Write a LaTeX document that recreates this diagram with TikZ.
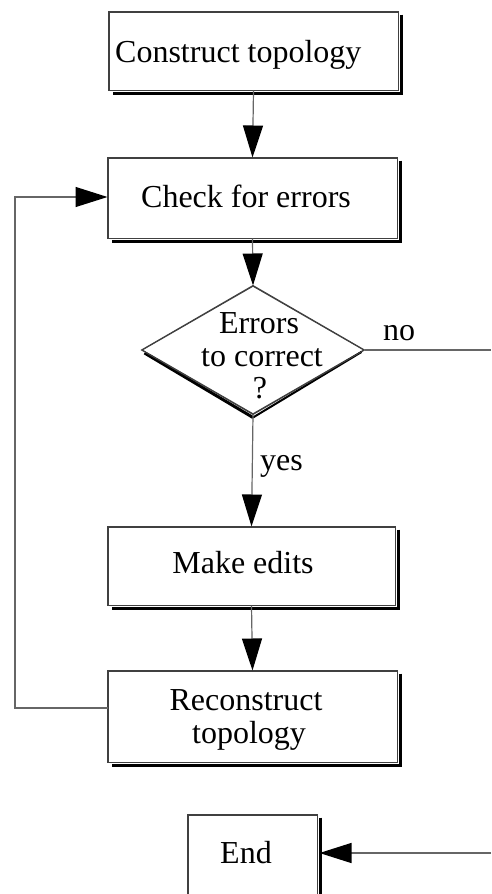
\documentclass[tikz,border=0pt]{standalone}
\usepackage{fontspec}
\setmainfont{Liberation Serif}
\usetikzlibrary{arrows.meta,shapes.geometric,calc}

\tikzset{
  boxnode/.style={draw=black!75, line width=1pt, fill=white, rectangle, inner sep=0pt},
  decide/.style={draw=black!75, line width=1pt, fill=white, diamond, inner sep=0pt},
  caption/.style={inner sep=0pt, font=\fontsize{32}{33}\selectfont},
  shade/.style={draw=black, line width=2.6pt},
  conn/.style={draw=black!60, line width=1.2pt},
  flow/.style={conn, -{Triangle[length=32pt,width=20pt,color=black]}},
}

\begin{document}
\begin{tikzpicture}[x=1pt,y=-1pt]
  \useasboundingbox (0,0) rectangle (491,894);

  % boxes of the flow
  \node[boxnode, minimum width=289pt, minimum height=78pt] (build) at (253.5,51) {};
  \node[boxnode, minimum width=289pt, minimum height=80pt] (check) at (252.5,198) {};
  \node[decide, minimum width=222pt, minimum height=128pt] (errs) at (253,350) {};
  \node[boxnode, minimum width=287pt, minimum height=78pt] (edit) at (251.5,566) {};
  \node[boxnode, minimum width=289pt, minimum height=91pt] (rebuild) at (252.5,716.5) {};
  \node[boxnode, minimum width=129pt, minimum height=90pt] (stop) at (252.5,860) {};

  % drop shadows along the right and lower edges
  \foreach \b in {build,check,edit,rebuild,stop}{
    \draw[shade] ($(\b.north east)+(3,3)$) -- ($(\b.south east)+(3,3)$) -- ($(\b.south west)+(4,3)$);
  }
  \draw[shade, line width=3pt] ($(errs.west)+(3,3)$) -- ($(errs.south)+(0,3)$);
  \draw[shade, line width=2pt] ($(errs.south)+(0,3)$) -- ($(errs.east)+(-3,2)$);
  % redraw borders above shadows
  \foreach \b in {build,check,edit,rebuild,stop}{
    \draw[draw=black!75, line width=1pt] (\b.north west) rectangle (\b.south east);
  }
  \draw[draw=black!75, line width=1pt] (errs.north) -- (errs.east) -- (errs.south) -- (errs.west) -- cycle;

  % texts
  \node[caption, anchor=base west] (t1) at (115,62) {Construct topology};
  \node[caption, anchor=base] (t2) at (246,207) {Check for errors};
  \node[caption, anchor=base] (t3a) at (259,333) {Errors};
  \node[caption, anchor=base] (t3b) at (262,366) {to correct};
  \node[caption, anchor=base] (t3c) at (260,398) {?};
  \node[caption, anchor=base west] (tno) at (383,340) {no};
  \node[caption, anchor=base west] (tyes) at (260,470) {yes};
  \node[caption, anchor=base] (t4) at (243,573) {Make edits};
  \node[caption, anchor=base] (t5a) at (246,710) {Reconstruct};
  \node[caption, anchor=base] (t5b) at (249,743) {topology};
  \node[caption, anchor=base] (t6) at (246,863) {End};

  % connectors
  \coordinate (loopb) at (15,708);
  \coordinate (loopt) at (15,197);
  \coordinate (noout) at (491,350);
  \coordinate (endin) at (491,853);

  \draw[flow] (build.south) -- (check.north);
  \draw[flow] (check.south) -- (errs.north);
  \draw[flow] (errs.south) -- (edit.north);
  \draw[flow] (edit.south) -- (rebuild.north);
  \draw[flow] (loopb -| rebuild.west) -- (loopb) -- (loopt) -- (loopt -| check.west);
  \draw[conn] (errs.east) -- (noout);
  \draw[flow] (endin) -- ($(endin -| stop.east)+(2,0)$);
\end{tikzpicture}
\end{document}
